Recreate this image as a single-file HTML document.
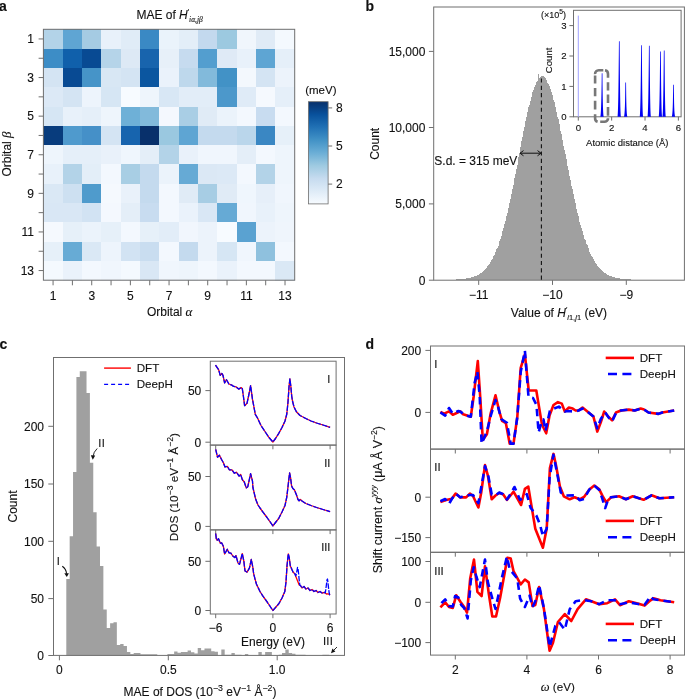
<!DOCTYPE html>
<html><head><meta charset="utf-8"><style>
html,body{margin:0;padding:0;background:#fff;}
body{width:685px;height:699px;overflow:hidden;}
svg{display:block;will-change:transform;}
text{font-family:"Liberation Sans", sans-serif;fill:#111;stroke:#111;stroke-width:0.12px;}
</style></head><body>
<svg width="685" height="699" viewBox="0 0 685 699">
<g shape-rendering="crispEdges">
<rect x="43.4" y="29.3" width="19.93" height="19.9" fill="#b3d3e8"/>
<rect x="62.73" y="29.3" width="19.93" height="19.9" fill="#5fa5d3"/>
<rect x="82.06" y="29.3" width="19.93" height="19.9" fill="#a5cbe3"/>
<rect x="101.39" y="29.3" width="19.93" height="19.9" fill="#e8f1fa"/>
<rect x="120.72" y="29.3" width="19.93" height="19.9" fill="#e0ecf7"/>
<rect x="140.05" y="29.3" width="19.93" height="19.9" fill="#3a89c4"/>
<rect x="159.38" y="29.3" width="19.93" height="19.9" fill="#eaf3fb"/>
<rect x="178.72" y="29.3" width="19.93" height="19.9" fill="#e3eef8"/>
<rect x="198.05" y="29.3" width="19.93" height="19.9" fill="#c3d9ee"/>
<rect x="217.38" y="29.3" width="19.93" height="19.9" fill="#9cc9e0"/>
<rect x="236.71" y="29.3" width="19.93" height="19.9" fill="#f0f6fc"/>
<rect x="256.04" y="29.3" width="19.93" height="19.9" fill="#e0ebf6"/>
<rect x="275.37" y="29.3" width="19.93" height="19.9" fill="#f4f9fe"/>
<rect x="43.4" y="48.6" width="19.93" height="19.9" fill="#3d8dc6"/>
<rect x="62.73" y="48.6" width="19.93" height="19.9" fill="#1060ab"/>
<rect x="82.06" y="48.6" width="19.93" height="19.9" fill="#084a93"/>
<rect x="101.39" y="48.6" width="19.93" height="19.9" fill="#b5d4e9"/>
<rect x="120.72" y="48.6" width="19.93" height="19.9" fill="#dde9f5"/>
<rect x="140.05" y="48.6" width="19.93" height="19.9" fill="#1864ad"/>
<rect x="159.38" y="48.6" width="19.93" height="19.9" fill="#e7f0f9"/>
<rect x="178.72" y="48.6" width="19.93" height="19.9" fill="#c6dbef"/>
<rect x="198.05" y="48.6" width="19.93" height="19.9" fill="#539ecf"/>
<rect x="217.38" y="48.6" width="19.93" height="19.9" fill="#dfeaf6"/>
<rect x="236.71" y="48.6" width="19.93" height="19.9" fill="#e8f1fa"/>
<rect x="256.04" y="48.6" width="19.93" height="19.9" fill="#5ea5d3"/>
<rect x="275.37" y="48.6" width="19.93" height="19.9" fill="#e5eff9"/>
<rect x="43.4" y="67.9" width="19.93" height="19.9" fill="#d4e4f3"/>
<rect x="62.73" y="67.9" width="19.93" height="19.9" fill="#084a93"/>
<rect x="82.06" y="67.9" width="19.93" height="19.9" fill="#4694c8"/>
<rect x="101.39" y="67.9" width="19.93" height="19.9" fill="#d8e7f4"/>
<rect x="120.72" y="67.9" width="19.93" height="19.9" fill="#d4e4f3"/>
<rect x="140.05" y="67.9" width="19.93" height="19.9" fill="#0b56a0"/>
<rect x="159.38" y="67.9" width="19.93" height="19.9" fill="#eaf2fb"/>
<rect x="178.72" y="67.9" width="19.93" height="19.9" fill="#bed8ec"/>
<rect x="198.05" y="67.9" width="19.93" height="19.9" fill="#82badb"/>
<rect x="217.38" y="67.9" width="19.93" height="19.9" fill="#4292c6"/>
<rect x="236.71" y="67.9" width="19.93" height="19.9" fill="#f3f8fd"/>
<rect x="256.04" y="67.9" width="19.93" height="19.9" fill="#d4e4f3"/>
<rect x="275.37" y="67.9" width="19.93" height="19.9" fill="#ecf3fb"/>
<rect x="43.4" y="87.2" width="19.93" height="19.9" fill="#dce9f6"/>
<rect x="62.73" y="87.2" width="19.93" height="19.9" fill="#d4e4f3"/>
<rect x="82.06" y="87.2" width="19.93" height="19.9" fill="#edf4fc"/>
<rect x="101.39" y="87.2" width="19.93" height="19.9" fill="#d6e6f4"/>
<rect x="120.72" y="87.2" width="19.93" height="19.9" fill="#f7fbff"/>
<rect x="140.05" y="87.2" width="19.93" height="19.9" fill="#eef5fc"/>
<rect x="159.38" y="87.2" width="19.93" height="19.9" fill="#d8e7f5"/>
<rect x="178.72" y="87.2" width="19.93" height="19.9" fill="#e2edf8"/>
<rect x="198.05" y="87.2" width="19.93" height="19.9" fill="#e2edf8"/>
<rect x="217.38" y="87.2" width="19.93" height="19.9" fill="#4c98cb"/>
<rect x="236.71" y="87.2" width="19.93" height="19.9" fill="#dfebf7"/>
<rect x="256.04" y="87.2" width="19.93" height="19.9" fill="#f5f9fe"/>
<rect x="275.37" y="87.2" width="19.93" height="19.9" fill="#e5eff9"/>
<rect x="43.4" y="106.5" width="19.93" height="19.9" fill="#d6e6f4"/>
<rect x="62.73" y="106.5" width="19.93" height="19.9" fill="#e8f1fa"/>
<rect x="82.06" y="106.5" width="19.93" height="19.9" fill="#e5eff9"/>
<rect x="101.39" y="106.5" width="19.93" height="19.9" fill="#eef5fc"/>
<rect x="120.72" y="106.5" width="19.93" height="19.9" fill="#6eb0d7"/>
<rect x="140.05" y="106.5" width="19.93" height="19.9" fill="#82badb"/>
<rect x="159.38" y="106.5" width="19.93" height="19.9" fill="#f4f8fe"/>
<rect x="178.72" y="106.5" width="19.93" height="19.9" fill="#a9cee5"/>
<rect x="198.05" y="106.5" width="19.93" height="19.9" fill="#e0ebf6"/>
<rect x="217.38" y="106.5" width="19.93" height="19.9" fill="#ebf3fb"/>
<rect x="236.71" y="106.5" width="19.93" height="19.9" fill="#f3f8fe"/>
<rect x="256.04" y="106.5" width="19.93" height="19.9" fill="#c8dcf0"/>
<rect x="275.37" y="106.5" width="19.93" height="19.9" fill="#f3f8fe"/>
<rect x="43.4" y="125.8" width="19.93" height="19.9" fill="#083c7d"/>
<rect x="62.73" y="125.8" width="19.93" height="19.9" fill="#4f9acd"/>
<rect x="82.06" y="125.8" width="19.93" height="19.9" fill="#4590c8"/>
<rect x="101.39" y="125.8" width="19.93" height="19.9" fill="#d4e4f3"/>
<rect x="120.72" y="125.8" width="19.93" height="19.9" fill="#1764ae"/>
<rect x="140.05" y="125.8" width="19.93" height="19.9" fill="#08306b"/>
<rect x="159.38" y="125.8" width="19.93" height="19.9" fill="#9ac8e0"/>
<rect x="178.72" y="125.8" width="19.93" height="19.9" fill="#5ea5d3"/>
<rect x="198.05" y="125.8" width="19.93" height="19.9" fill="#c4daee"/>
<rect x="217.38" y="125.8" width="19.93" height="19.9" fill="#c4daee"/>
<rect x="236.71" y="125.8" width="19.93" height="19.9" fill="#bad6eb"/>
<rect x="256.04" y="125.8" width="19.93" height="19.9" fill="#3a87c3"/>
<rect x="275.37" y="125.8" width="19.93" height="19.9" fill="#e6f0f9"/>
<rect x="43.4" y="145.1" width="19.93" height="19.9" fill="#eef5fc"/>
<rect x="62.73" y="145.1" width="19.93" height="19.9" fill="#e5eff9"/>
<rect x="82.06" y="145.1" width="19.93" height="19.9" fill="#e5eff9"/>
<rect x="101.39" y="145.1" width="19.93" height="19.9" fill="#e9f1fa"/>
<rect x="120.72" y="145.1" width="19.93" height="19.9" fill="#eff6fd"/>
<rect x="140.05" y="145.1" width="19.93" height="19.9" fill="#e4eef8"/>
<rect x="159.38" y="145.1" width="19.93" height="19.9" fill="#b3d3e8"/>
<rect x="178.72" y="145.1" width="19.93" height="19.9" fill="#e9f1fa"/>
<rect x="198.05" y="145.1" width="19.93" height="19.9" fill="#f0f6fd"/>
<rect x="217.38" y="145.1" width="19.93" height="19.9" fill="#f0f6fd"/>
<rect x="236.71" y="145.1" width="19.93" height="19.9" fill="#e4eef8"/>
<rect x="256.04" y="145.1" width="19.93" height="19.9" fill="#f3f8fe"/>
<rect x="275.37" y="145.1" width="19.93" height="19.9" fill="#eef5fc"/>
<rect x="43.4" y="164.4" width="19.93" height="19.9" fill="#e8f1fa"/>
<rect x="62.73" y="164.4" width="19.93" height="19.9" fill="#b3d3e8"/>
<rect x="82.06" y="164.4" width="19.93" height="19.9" fill="#e3eef8"/>
<rect x="101.39" y="164.4" width="19.93" height="19.9" fill="#f3f8fe"/>
<rect x="120.72" y="164.4" width="19.93" height="19.9" fill="#a8cee4"/>
<rect x="140.05" y="164.4" width="19.93" height="19.9" fill="#c4daee"/>
<rect x="159.38" y="164.4" width="19.93" height="19.9" fill="#ebf3fb"/>
<rect x="178.72" y="164.4" width="19.93" height="19.9" fill="#66aad5"/>
<rect x="198.05" y="164.4" width="19.93" height="19.9" fill="#dbe8f5"/>
<rect x="217.38" y="164.4" width="19.93" height="19.9" fill="#dce9f6"/>
<rect x="236.71" y="164.4" width="19.93" height="19.9" fill="#f3f8fe"/>
<rect x="256.04" y="164.4" width="19.93" height="19.9" fill="#b3d3e8"/>
<rect x="275.37" y="164.4" width="19.93" height="19.9" fill="#eef5fc"/>
<rect x="43.4" y="183.7" width="19.93" height="19.9" fill="#dae8f5"/>
<rect x="62.73" y="183.7" width="19.93" height="19.9" fill="#cde0f1"/>
<rect x="82.06" y="183.7" width="19.93" height="19.9" fill="#4f9bcc"/>
<rect x="101.39" y="183.7" width="19.93" height="19.9" fill="#f5f9fe"/>
<rect x="120.72" y="183.7" width="19.93" height="19.9" fill="#e9f1fa"/>
<rect x="140.05" y="183.7" width="19.93" height="19.9" fill="#c4daee"/>
<rect x="159.38" y="183.7" width="19.93" height="19.9" fill="#f3f8fe"/>
<rect x="178.72" y="183.7" width="19.93" height="19.9" fill="#e0ebf6"/>
<rect x="198.05" y="183.7" width="19.93" height="19.9" fill="#a7cde4"/>
<rect x="217.38" y="183.7" width="19.93" height="19.9" fill="#e0ebf6"/>
<rect x="236.71" y="183.7" width="19.93" height="19.9" fill="#eff6fd"/>
<rect x="256.04" y="183.7" width="19.93" height="19.9" fill="#e6eff9"/>
<rect x="275.37" y="183.7" width="19.93" height="19.9" fill="#f0f6fd"/>
<rect x="43.4" y="203" width="19.93" height="19.9" fill="#d9e7f5"/>
<rect x="62.73" y="203" width="19.93" height="19.9" fill="#d9e7f5"/>
<rect x="82.06" y="203" width="19.93" height="19.9" fill="#d2e3f3"/>
<rect x="101.39" y="203" width="19.93" height="19.9" fill="#f4f8fe"/>
<rect x="120.72" y="203" width="19.93" height="19.9" fill="#e4eef8"/>
<rect x="140.05" y="203" width="19.93" height="19.9" fill="#c8dcf0"/>
<rect x="159.38" y="203" width="19.93" height="19.9" fill="#f3f8fe"/>
<rect x="178.72" y="203" width="19.93" height="19.9" fill="#eaf2fb"/>
<rect x="198.05" y="203" width="19.93" height="19.9" fill="#d9e7f5"/>
<rect x="217.38" y="203" width="19.93" height="19.9" fill="#66aad5"/>
<rect x="236.71" y="203" width="19.93" height="19.9" fill="#f0f6fd"/>
<rect x="256.04" y="203" width="19.93" height="19.9" fill="#e8f1fa"/>
<rect x="275.37" y="203" width="19.93" height="19.9" fill="#eef5fc"/>
<rect x="43.4" y="222.3" width="19.93" height="19.9" fill="#f5f9fe"/>
<rect x="62.73" y="222.3" width="19.93" height="19.9" fill="#e6f0f9"/>
<rect x="82.06" y="222.3" width="19.93" height="19.9" fill="#ebf3fb"/>
<rect x="101.39" y="222.3" width="19.93" height="19.9" fill="#e6f0f9"/>
<rect x="120.72" y="222.3" width="19.93" height="19.9" fill="#f3f8fe"/>
<rect x="140.05" y="222.3" width="19.93" height="19.9" fill="#e6f0f9"/>
<rect x="159.38" y="222.3" width="19.93" height="19.9" fill="#e2edf8"/>
<rect x="178.72" y="222.3" width="19.93" height="19.9" fill="#f1f6fd"/>
<rect x="198.05" y="222.3" width="19.93" height="19.9" fill="#ecf3fb"/>
<rect x="217.38" y="222.3" width="19.93" height="19.9" fill="#f7fbff"/>
<rect x="236.71" y="222.3" width="19.93" height="19.9" fill="#5aa2d1"/>
<rect x="256.04" y="222.3" width="19.93" height="19.9" fill="#ecf3fb"/>
<rect x="275.37" y="222.3" width="19.93" height="19.9" fill="#eff5fc"/>
<rect x="43.4" y="241.6" width="19.93" height="19.9" fill="#e6f0f9"/>
<rect x="62.73" y="241.6" width="19.93" height="19.9" fill="#67abd5"/>
<rect x="82.06" y="241.6" width="19.93" height="19.9" fill="#dae8f5"/>
<rect x="101.39" y="241.6" width="19.93" height="19.9" fill="#edf4fc"/>
<rect x="120.72" y="241.6" width="19.93" height="19.9" fill="#d2e3f3"/>
<rect x="140.05" y="241.6" width="19.93" height="19.9" fill="#c9ddf0"/>
<rect x="159.38" y="241.6" width="19.93" height="19.9" fill="#f3f8fe"/>
<rect x="178.72" y="241.6" width="19.93" height="19.9" fill="#c4daee"/>
<rect x="198.05" y="241.6" width="19.93" height="19.9" fill="#ecf3fb"/>
<rect x="217.38" y="241.6" width="19.93" height="19.9" fill="#d6e6f4"/>
<rect x="236.71" y="241.6" width="19.93" height="19.9" fill="#f0f6fd"/>
<rect x="256.04" y="241.6" width="19.93" height="19.9" fill="#8fc1de"/>
<rect x="275.37" y="241.6" width="19.93" height="19.9" fill="#f3f8fe"/>
<rect x="43.4" y="260.9" width="19.93" height="19.9" fill="#f4f9fe"/>
<rect x="62.73" y="260.9" width="19.93" height="19.9" fill="#eaf2fb"/>
<rect x="82.06" y="260.9" width="19.93" height="19.9" fill="#f3f8fe"/>
<rect x="101.39" y="260.9" width="19.93" height="19.9" fill="#f0f6fd"/>
<rect x="120.72" y="260.9" width="19.93" height="19.9" fill="#f4f9fe"/>
<rect x="140.05" y="260.9" width="19.93" height="19.9" fill="#d9e7f5"/>
<rect x="159.38" y="260.9" width="19.93" height="19.9" fill="#f0f6fd"/>
<rect x="178.72" y="260.9" width="19.93" height="19.9" fill="#eef5fc"/>
<rect x="198.05" y="260.9" width="19.93" height="19.9" fill="#f3f8fe"/>
<rect x="217.38" y="260.9" width="19.93" height="19.9" fill="#eaf2fb"/>
<rect x="236.71" y="260.9" width="19.93" height="19.9" fill="#f3f8fe"/>
<rect x="256.04" y="260.9" width="19.93" height="19.9" fill="#f3f8fe"/>
<rect x="275.37" y="260.9" width="19.93" height="19.9" fill="#dae8f5"/>
</g>
<rect x="43.4" y="29.3" width="251.3" height="250.9" fill="none" stroke="#6f6f6f" stroke-width="1"/>
<line x1="38.6" y1="38.95" x2="43.4" y2="38.95" stroke="#6f6f6f" stroke-width="1"/>
<line x1="53.07" y1="280.2" x2="53.07" y2="285.3" stroke="#6f6f6f" stroke-width="1"/>
<text x="34" y="43.25" text-anchor="end" font-size="12">1</text>
<text x="53.07" y="299.6" text-anchor="middle" font-size="12">1</text>
<line x1="38.6" y1="58.25" x2="43.4" y2="58.25" stroke="#6f6f6f" stroke-width="1"/>
<line x1="72.4" y1="280.2" x2="72.4" y2="285.3" stroke="#6f6f6f" stroke-width="1"/>
<line x1="38.6" y1="77.55" x2="43.4" y2="77.55" stroke="#6f6f6f" stroke-width="1"/>
<line x1="91.73" y1="280.2" x2="91.73" y2="285.3" stroke="#6f6f6f" stroke-width="1"/>
<text x="34" y="81.85" text-anchor="end" font-size="12">3</text>
<text x="91.73" y="299.6" text-anchor="middle" font-size="12">3</text>
<line x1="38.6" y1="96.85" x2="43.4" y2="96.85" stroke="#6f6f6f" stroke-width="1"/>
<line x1="111.06" y1="280.2" x2="111.06" y2="285.3" stroke="#6f6f6f" stroke-width="1"/>
<line x1="38.6" y1="116.15" x2="43.4" y2="116.15" stroke="#6f6f6f" stroke-width="1"/>
<line x1="130.39" y1="280.2" x2="130.39" y2="285.3" stroke="#6f6f6f" stroke-width="1"/>
<text x="34" y="120.45" text-anchor="end" font-size="12">5</text>
<text x="130.39" y="299.6" text-anchor="middle" font-size="12">5</text>
<line x1="38.6" y1="135.45" x2="43.4" y2="135.45" stroke="#6f6f6f" stroke-width="1"/>
<line x1="149.72" y1="280.2" x2="149.72" y2="285.3" stroke="#6f6f6f" stroke-width="1"/>
<line x1="38.6" y1="154.75" x2="43.4" y2="154.75" stroke="#6f6f6f" stroke-width="1"/>
<line x1="169.05" y1="280.2" x2="169.05" y2="285.3" stroke="#6f6f6f" stroke-width="1"/>
<text x="34" y="159.05" text-anchor="end" font-size="12">7</text>
<text x="169.05" y="299.6" text-anchor="middle" font-size="12">7</text>
<line x1="38.6" y1="174.05" x2="43.4" y2="174.05" stroke="#6f6f6f" stroke-width="1"/>
<line x1="188.38" y1="280.2" x2="188.38" y2="285.3" stroke="#6f6f6f" stroke-width="1"/>
<line x1="38.6" y1="193.35" x2="43.4" y2="193.35" stroke="#6f6f6f" stroke-width="1"/>
<line x1="207.71" y1="280.2" x2="207.71" y2="285.3" stroke="#6f6f6f" stroke-width="1"/>
<text x="34" y="197.65" text-anchor="end" font-size="12">9</text>
<text x="207.71" y="299.6" text-anchor="middle" font-size="12">9</text>
<line x1="38.6" y1="212.65" x2="43.4" y2="212.65" stroke="#6f6f6f" stroke-width="1"/>
<line x1="227.04" y1="280.2" x2="227.04" y2="285.3" stroke="#6f6f6f" stroke-width="1"/>
<line x1="38.6" y1="231.95" x2="43.4" y2="231.95" stroke="#6f6f6f" stroke-width="1"/>
<line x1="246.37" y1="280.2" x2="246.37" y2="285.3" stroke="#6f6f6f" stroke-width="1"/>
<text x="34" y="236.25" text-anchor="end" font-size="12">11</text>
<text x="246.37" y="299.6" text-anchor="middle" font-size="12">11</text>
<line x1="38.6" y1="251.25" x2="43.4" y2="251.25" stroke="#6f6f6f" stroke-width="1"/>
<line x1="265.7" y1="280.2" x2="265.7" y2="285.3" stroke="#6f6f6f" stroke-width="1"/>
<line x1="38.6" y1="270.55" x2="43.4" y2="270.55" stroke="#6f6f6f" stroke-width="1"/>
<line x1="285.03" y1="280.2" x2="285.03" y2="285.3" stroke="#6f6f6f" stroke-width="1"/>
<text x="34" y="274.85" text-anchor="end" font-size="12">13</text>
<text x="285.03" y="299.6" text-anchor="middle" font-size="12">13</text>
<text x="136.4" y="19" font-size="12">MAE of <tspan font-style="italic">H</tspan><tspan font-size="7" dy="-5">′</tspan><tspan font-size="7.5" font-style="italic" dy="8" font-family="Liberation Serif">iα,jβ</tspan></text>
<text x="-1" y="11" font-size="14" font-weight="bold">a</text>
<text x="146.9" y="316.4" font-size="12">Orbital <tspan font-family="Liberation Serif" font-style="italic" font-size="13">α</tspan></text>
<text transform="translate(10.7 154) rotate(-90)" text-anchor="middle" font-size="12">Orbital <tspan font-family="Liberation Serif" font-style="italic" font-size="13">β</tspan></text>
<defs><linearGradient id="cb" x1="0" y1="1" x2="0" y2="0"><stop offset="0" stop-color="#f7fbff"/><stop offset="0.125" stop-color="#deebf7"/><stop offset="0.25" stop-color="#c6dbef"/><stop offset="0.375" stop-color="#9ecae1"/><stop offset="0.5" stop-color="#6baed6"/><stop offset="0.625" stop-color="#4292c6"/><stop offset="0.75" stop-color="#2171b5"/><stop offset="0.875" stop-color="#08519c"/><stop offset="1" stop-color="#08306b"/></linearGradient></defs>
<rect x="308.4" y="101.7" width="19.7" height="102.2" fill="url(#cb)" stroke="#6f6f6f" stroke-width="0.8"/>
<line x1="328.1" y1="107.9" x2="332.2" y2="107.9" stroke="#6f6f6f" stroke-width="1"/>
<text x="336" y="112.2" font-size="12">8</text>
<line x1="328.1" y1="146" x2="332.2" y2="146" stroke="#6f6f6f" stroke-width="1"/>
<text x="336" y="150.3" font-size="12">5</text>
<line x1="328.1" y1="184.1" x2="332.2" y2="184.1" stroke="#6f6f6f" stroke-width="1"/>
<text x="336" y="188.4" font-size="12">2</text>
<text x="305.2" y="94.4" font-size="11.5">(meV)</text>
<text x="365.5" y="10.5" font-size="14" font-weight="bold">b</text>
<path d="M443,280.2L443,279.87L444,279.87L444,279.85L445,279.85L445,279.83L446,279.83L446,279.81L447,279.81L447,279.78L448,279.78L448,279.76L449,279.76L449,279.73L450,279.73L450,279.7L451,279.7L451,279.67L452,279.67L452,279.63L453,279.63L453,279.59L454,279.59L454,279.55L455,279.55L455,279.5L456,279.5L456,279.45L457,279.45L457,279.39L458,279.39L458,279.33L459,279.33L459,279.26L460,279.26L460,279.18L461,279.18L461,279.09L462,279.09L462,278.99L463,278.99L463,278.89L464,278.89L464,278.76L465,278.76L465,278.63L466,278.63L466,278.47L467,278.47L467,278.3L468,278.3L468,278.11L469,278.11L469,277.9L470,277.9L470,277.67L471,277.67L471,277.4L472,277.4L472,277.11L473,277.11L473,276.78L474,276.78L474,276.42L475,276.42L475,276.02L476,276.02L476,275.57L477,275.57L477,275.08L478,275.08L478,274.53L479,274.53L479,273.93L480,273.93L480,273.27L481,273.27L481,272.54L482,272.54L482,271.74L483,271.74L483,270.86L484,270.86L484,269.9L485,269.9L485,268.85L486,268.85L486,267.71L487,267.71L487,266.47L488,266.47L488,265.12L489,265.12L489,263.65L490,263.65L490,262.07L491,262.07L491,260.37L492,260.37L492,259.16L493,259.16L493,256.45L494,256.45L494,254.76L495,254.76L495,251.93L496,251.93L496,249.47L497,249.47L497,248.24L498,248.24L498,245.64L499,245.64L499,240.77L500,240.77L500,239.09L501,239.09L501,235.93L502,235.93L502,230.7L503,230.7L503,228.4L504,228.4L504,223.79L505,223.79L505,220.76L506,220.76L506,216.31L507,216.31L507,213.26L508,213.26L508,207.73L509,207.73L509,202.66L510,202.66L510,198.83L511,198.83L511,193.53L512,193.53L512,188.79L513,188.79L513,185.25L514,185.25L514,178.49L515,178.49L515,173.71L516,173.71L516,169.17L517,169.17L517,164.54L518,164.54L518,157.24L519,157.24L519,152.87L520,152.87L520,146.98L521,146.98L521,141.33L522,141.33L522,136.52L523,136.52L523,130.89L524,130.89L524,127.12L525,127.12L525,121.24L526,121.24L526,117.33L527,117.33L527,111.56L528,111.56L528,107.29L529,107.29L529,104.97L530,104.97L530,100.92L531,100.92L531,97.03L532,97.03L532,91.8L533,91.8L533,89.93L534,89.93L534,86.64L535,86.64L535,84.92L536,84.92L536,82.25L537,82.25L537,80.72L538,80.72L538,73.9L539,73.9L539,77.69L540,77.69L540,76.97L541,76.97L541,75.86L542,75.86L542,76.43L543,76.43L543,76.22L544,76.22L544,77.14L545,77.14L545,77.91L546,77.91L546,80.11L547,80.11L547,83.1L548,83.1L548,83.52L549,83.52L549,85.68L550,85.68L550,88.54L551,88.54L551,92.35L552,92.35L552,95.28L553,95.28L553,100.02L554,100.02L554,102.31L555,102.31L555,106.92L556,106.92L556,111.82L557,111.82L557,116.74L558,116.74L558,119.39L559,119.39L559,123.76L560,123.76L560,130.74L561,130.74L561,133.94L562,133.94L562,139.88L563,139.88L563,145.57L564,145.57L564,150.33L565,150.33L565,154.32L566,154.32L566,159.2L567,159.2L567,166.31L568,166.31L568,170.03L569,170.03L569,176.44L570,176.44L570,179.8L571,179.8L571,185.64L572,185.64L572,189.14L573,189.14L573,193.62L574,193.62L574,199.36L575,199.36L575,202.67L576,202.67L576,208.68L577,208.68L577,213.45L578,213.45L578,216.28L579,216.28L579,221.57L580,221.57L580,224.95L581,224.95L581,228.07L582,228.07L582,231.05L583,231.05L583,235.45L584,235.45L584,238.88L585,238.88L585,239.9L586,239.9L586,244.07L587,244.07L587,245.21L588,245.21L588,247.89L589,247.89L589,251.53L590,251.53L590,253.58L591,253.58L591,255.54L592,255.54L592,257.22L593,257.22L593,259.17L594,259.17L594,261.12L595,261.12L595,262.72L596,262.72L596,264.2L597,264.2L597,265.57L598,265.57L598,266.85L599,266.85L599,268.02L600,268.02L600,269.1L601,269.1L601,270.1L602,270.1L602,271.01L603,271.01L603,271.85L604,271.85L604,272.61L605,272.61L605,273.31L606,273.31L606,273.95L607,273.95L607,274.53L608,274.53L608,275.06L609,275.06L609,275.54L610,275.54L610,275.97L611,275.97L611,276.37L612,276.37L612,276.72L613,276.72L613,277.05L614,277.05L614,277.34L615,277.34L615,277.6L616,277.6L616,277.83L617,277.83L617,278.05L618,278.05L618,278.24L619,278.24L619,278.41L620,278.41L620,278.56L621,278.56L621,278.7L622,278.7L622,278.82L623,278.82L623,278.94L624,278.94L624,279.04L625,279.04L625,279.13L626,279.13L626,279.21L627,279.21L627,279.28L628,279.28L628,279.35L629,279.35L629,279.41L630,279.41L630,279.46L631,279.46L631,279.51L632,279.51L632,279.56L633,279.56L633,279.6L634,279.6L634,279.64L635,279.64L635,279.67L636,279.67L636,279.7L637,279.7L637,279.73L638,279.73L638,279.76L639,279.76L639,279.78L640,279.78L640,279.81L641,279.81L641,279.83L642,279.83L642,279.85L643,279.85L643,279.87L644,279.87L644,279.88L645,279.88L645,279.9L646,279.9L646,279.9L647,279.9L647,279.9L648,279.9L648,279.9L649,279.9L649,279.9L650,279.9L650,279.9L651,279.9L651,279.9L652,279.9L652,279.9L653,279.9L653,279.9L654,279.9L654,279.9L655,279.9L655,279.9L656,279.9L656,279.9L657,279.9L657,279.9L658,279.9L658,279.9L659,279.9L659,279.9L660,279.9L660,279.9L661,279.9L661,279.9L662,279.9L662,279.9L663,279.9L663,279.9L664,279.9L664,279.9L665,279.9L665,279.9L666,279.9L666,279.9L667,279.9L667,279.9L668,279.9L668,279.9L669,279.9L669,279.9L670,279.9L670,279.9L671,279.9L671,279.9L672,279.9L672,279.9L673,279.9L673,279.9L674,279.9L674,279.9L675,279.9L675,280.2Z" fill="#a0a0a0" shape-rendering="crispEdges"/>
<rect x="433.7" y="7" width="250.7" height="273.2" fill="none" stroke="#6f6f6f" stroke-width="1"/>
<line x1="428.9" y1="280.2" x2="433.7" y2="280.2" stroke="#6f6f6f"/>
<text x="425.4" y="284.5" text-anchor="end" font-size="12">0</text>
<line x1="428.9" y1="203.9" x2="433.7" y2="203.9" stroke="#6f6f6f"/>
<text x="425.4" y="208.2" text-anchor="end" font-size="12">5,000</text>
<line x1="428.9" y1="127.5" x2="433.7" y2="127.5" stroke="#6f6f6f"/>
<text x="425.4" y="131.8" text-anchor="end" font-size="12">10,000</text>
<line x1="428.9" y1="51.4" x2="433.7" y2="51.4" stroke="#6f6f6f"/>
<text x="425.4" y="55.7" text-anchor="end" font-size="12">15,000</text>
<line x1="478.7" y1="280.2" x2="478.7" y2="284.9" stroke="#6f6f6f"/>
<text x="478.7" y="298.9" text-anchor="middle" font-size="12">−11</text>
<line x1="552.5" y1="280.2" x2="552.5" y2="284.9" stroke="#6f6f6f"/>
<text x="552.5" y="298.9" text-anchor="middle" font-size="12">−10</text>
<line x1="626.3" y1="280.2" x2="626.3" y2="284.9" stroke="#6f6f6f"/>
<text x="626.3" y="298.9" text-anchor="middle" font-size="12">−9</text>
<text transform="translate(379 143.8) rotate(-90)" text-anchor="middle" font-size="12">Count</text>
<text x="510.8" y="317.2" font-size="12">Value of <tspan font-style="italic">H</tspan><tspan font-size="7" dy="-5">′</tspan><tspan font-size="7.5" font-style="italic" dy="8">i</tspan><tspan font-size="7.5">1,</tspan><tspan font-size="7.5" font-style="italic">j</tspan><tspan font-size="7.5">1</tspan><tspan dy="-3"> (eV)</tspan></text>
<line x1="541.4" y1="78.5" x2="541.4" y2="280" stroke="#111" stroke-width="1.1" stroke-dasharray="4.1,3.2"/>
<line x1="520.5" y1="153.2" x2="540.5" y2="153.2" stroke="#111" stroke-width="1"/>
<path d="M523.5,150.6 L520,153.2 L523.5,155.8 M537.5,150.6 L541,153.2 L537.5,155.8" fill="none" stroke="#111" stroke-width="1"/>
<rect x="434.3" y="155" width="82" height="11" fill="#fff"/>
<text x="434.3" y="164.5" font-size="12">S.d. = 315 meV</text>
<rect x="573.5" y="10.3" width="107.6" height="106.5" fill="#fff" stroke="#6f6f6f" stroke-width="1"/>
<line x1="569.4" y1="116.8" x2="573.5" y2="116.8" stroke="#6f6f6f"/>
<text x="566.6" y="120" text-anchor="end" font-size="9.6">0</text>
<line x1="569.4" y1="86.4" x2="573.5" y2="86.4" stroke="#6f6f6f"/>
<text x="566.6" y="89.6" text-anchor="end" font-size="9.6">1</text>
<line x1="569.4" y1="56" x2="573.5" y2="56" stroke="#6f6f6f"/>
<text x="566.6" y="59.2" text-anchor="end" font-size="9.6">2</text>
<line x1="569.4" y1="25.6" x2="573.5" y2="25.6" stroke="#6f6f6f"/>
<text x="566.6" y="28.8" text-anchor="end" font-size="9.6">3</text>
<line x1="578.3" y1="116.8" x2="578.3" y2="120.6" stroke="#6f6f6f"/>
<text x="578.3" y="131" text-anchor="middle" font-size="9.6">0</text>
<line x1="611.66" y1="116.8" x2="611.66" y2="120.6" stroke="#6f6f6f"/>
<text x="611.66" y="131" text-anchor="middle" font-size="9.6">2</text>
<line x1="645.02" y1="116.8" x2="645.02" y2="120.6" stroke="#6f6f6f"/>
<text x="645.02" y="131" text-anchor="middle" font-size="9.6">4</text>
<line x1="678.38" y1="116.8" x2="678.38" y2="120.6" stroke="#6f6f6f"/>
<text x="678.38" y="131" text-anchor="middle" font-size="9.6">6</text>
<text x="627.3" y="145.8" text-anchor="middle" font-size="9.5">Atomic distance (Å)</text>
<text transform="translate(551.8 60.4) rotate(-90)" text-anchor="middle" font-size="9.6">Count</text>
<text x="541" y="17.8" font-size="9">(×10<tspan font-size="6.8" dy="-3.6">5</tspan><tspan dy="3.6">)</tspan></text>
<line x1="578.3" y1="116.8" x2="578.3" y2="15.6" stroke="#a0a0ff" stroke-width="1"/>
<path d="M600.4,116.8 C601.3,114 601.55,93.3 601.75,73.3 L602.45,73.3 C602.65,93.3 602.9,114 603.8,116.8 Z" fill="#0000f5"/>
<path d="M617.6,116.8 C618.5,114 618.75,61.2 618.95,41.2 L619.65,41.2 C619.85,61.2 620.1,114 621,116.8 Z" fill="#0000f5"/>
<path d="M624,116.8 C624.9,114 625.15,102.4 625.35,82.4 L626.05,82.4 C626.25,102.4 626.5,114 627.4,116.8 Z" fill="#0000f5"/>
<path d="M639.8,116.8 C640.7,114 640.95,65.3 641.15,45.3 L641.85,45.3 C642.05,65.3 642.3,114 643.2,116.8 Z" fill="#0000f5"/>
<path d="M647.6,116.8 C648.5,114 648.75,65.8 648.95,45.8 L649.65,45.8 C649.85,65.8 650.1,114 651,116.8 Z" fill="#0000f5"/>
<path d="M658.8,116.8 C659.7,114 659.95,71.5 660.15,51.5 L660.85,51.5 C661.05,71.5 661.3,114 662.2,116.8 Z" fill="#0000f5"/>
<path d="M662.5,116.8 C663.4,114 663.65,70.4 663.85,50.4 L664.55,50.4 C664.75,70.4 665,114 665.9,116.8 Z" fill="#0000f5"/>
<path d="M671.8,116.8 C672.7,114 672.95,104.7 673.15,84.7 L673.85,84.7 C674.05,104.7 674.3,114 675.2,116.8 Z" fill="#0000f5"/>
<path d="M595.1,74.2 A3.6,3.6 0 0 1 598.7,70.3 L603.3,70.3 M605.0,70.3 A3.6,3.6 0 0 1 608,73.9 L608,77.7 M608,82.2 L608,90.6 M608,94.6 L608,103 M608,107 L608,115.8 M608,119.4 L608,118.2 A3.6,3.6 0 0 1 604.4,121.8 L600.2,121.8 M597.6,121.8 A3.6,3.6 0 0 1 595.1,118.2 L595.1,114.2 M595.1,109.6 L595.1,100.8 M595.1,96.3 L595.1,87.9 M595.1,83.5 L595.1,75.4" fill="none" stroke="#777" stroke-width="2.6"/>
<text x="-0.5" y="349.4" font-size="14" font-weight="bold">c</text>
<path d="M66.3,655.4V579.08H69.67V655.4ZM69.67,655.4V536.22H73.04V655.4ZM73.04,655.4V472.04H76.41V655.4ZM76.41,655.4V376.92H79.78V655.4ZM79.78,655.4V371.19H83.15V655.4ZM83.15,655.4V371.19H86.52V655.4ZM86.52,655.4V392.97H89.89V655.4ZM89.89,655.4V462.87H93.26V655.4ZM93.26,655.4V512.15H96.63V655.4ZM96.63,655.4V546.53H100V655.4ZM100,655.4V566.01H103.37V655.4ZM103.37,655.4V609.56H106.74V655.4ZM106.74,655.4V627.9H110.11V655.4ZM110.11,655.4V623.31H113.48V655.4ZM113.48,655.4V622.17H116.85V655.4ZM116.85,655.4V645.09H120.22V655.4ZM120.22,655.4V643.94H123.59V655.4ZM123.59,655.4V645.89H126.96V655.4ZM126.96,655.4V651.96H130.33V655.4ZM130.33,655.4V653.91H133.7V655.4ZM133.7,655.4V653.11H137.07V655.4ZM137.07,655.4V653.11H140.44V655.4ZM140.44,655.4V654.25H143.81V655.4ZM143.81,655.4V654.25H147.18V655.4ZM147.18,655.4V654.25H150.55V655.4ZM150.55,655.4V654.25H153.92V655.4ZM153.92,655.4V654.25H157.29V655.4ZM167.4,655.4V653.91H170.77V655.4ZM170.77,655.4V653.91H174.14V655.4ZM174.14,655.4V651.62H177.51V655.4ZM177.51,655.4V652.76H180.88V655.4ZM180.88,655.4V651.96H184.25V655.4ZM184.25,655.4V651.96H187.62V655.4ZM187.62,655.4V650.59H190.99V655.4ZM190.99,655.4V652.19H194.36V655.4ZM194.36,655.4V653.45H197.73V655.4ZM197.73,655.4V648.07H201.1V655.4ZM201.1,655.4V650.24H204.47V655.4ZM204.47,655.4V648.41H207.84V655.4ZM207.84,655.4V648.41H211.21V655.4ZM211.21,655.4V651.27H214.58V655.4ZM214.58,655.4V651.73H217.95V655.4ZM221.32,655.4V649.44H224.69V655.4ZM224.69,655.4V654.83H228.06V655.4ZM228.06,655.4V654.83H231.43V655.4ZM231.43,655.4V653.11H234.8V655.4ZM234.8,655.4V654.83H238.17V655.4ZM238.17,655.4V654.83H241.54V655.4ZM244.91,655.4V653.91H248.28V655.4ZM258.39,655.4V651.96H261.76V655.4ZM261.76,655.4V654.83H265.13V655.4ZM265.13,655.4V651.96H268.5V655.4ZM268.5,655.4V651.96H271.87V655.4ZM278.61,655.4V654.83H281.98V655.4ZM281.98,655.4V653.11H285.35V655.4ZM285.35,655.4V649.44H288.72V655.4ZM288.72,655.4V653.11H292.09V655.4ZM292.09,655.4V653.68H295.46V655.4ZM295.46,655.4V654.83H298.83V655.4ZM298.83,655.4V654.83H302.2V655.4ZM302.2,655.4V654.83H305.57V655.4ZM322.42,655.4V654.83H325.79V655.4ZM325.79,655.4V654.83H329.16V655.4Z" fill="#a0a0a0"/>
<rect x="53.5" y="357.5" width="291" height="297.9" fill="none" stroke="#6f6f6f" stroke-width="1"/>
<line x1="48.3" y1="655.5" x2="53.5" y2="655.5" stroke="#6f6f6f"/>
<text x="44" y="659.8" text-anchor="end" font-size="12">0</text>
<line x1="48.3" y1="598.6" x2="53.5" y2="598.6" stroke="#6f6f6f"/>
<text x="44" y="602.9" text-anchor="end" font-size="12">50</text>
<line x1="48.3" y1="541.3" x2="53.5" y2="541.3" stroke="#6f6f6f"/>
<text x="44" y="545.6" text-anchor="end" font-size="12">100</text>
<line x1="48.3" y1="484" x2="53.5" y2="484" stroke="#6f6f6f"/>
<text x="44" y="488.3" text-anchor="end" font-size="12">150</text>
<line x1="48.3" y1="426.3" x2="53.5" y2="426.3" stroke="#6f6f6f"/>
<text x="44" y="430.6" text-anchor="end" font-size="12">200</text>
<line x1="59.4" y1="655.4" x2="59.4" y2="660.3" stroke="#6f6f6f"/>
<text x="59.4" y="674.1" text-anchor="middle" font-size="12">0</text>
<line x1="168.3" y1="655.4" x2="168.3" y2="660.3" stroke="#6f6f6f"/>
<text x="168.3" y="674.1" text-anchor="middle" font-size="12">0.5</text>
<line x1="277.2" y1="655.4" x2="277.2" y2="660.3" stroke="#6f6f6f"/>
<text x="277.2" y="674.1" text-anchor="middle" font-size="12">1.0</text>
<text transform="translate(16.6 506.5) rotate(-90)" text-anchor="middle" font-size="12">Count</text>
<text x="123.6" y="696" font-size="12">MAE of DOS (10<tspan font-size="8.8" dy="-5.2">−3</tspan><tspan dy="5.2"> eV</tspan><tspan font-size="8.8" dy="-5.2">−1</tspan><tspan dy="5.2"> Å</tspan><tspan font-size="8.8" dy="-5.2">−2</tspan><tspan dy="5.2">)</tspan></text>
<text x="56.7" y="565.3" font-size="11">I</text>
<path d="M62.3,566.3 Q66.2,569 66.6,573.8" fill="none" stroke="#111" stroke-width="1.1"/>
<path d="M64.3,573.2 L68.9,573.2 L66.8,577 Z" fill="#111"/>
<text x="98.2" y="447" font-size="11" letter-spacing="0.6">II</text>
<path d="M97.2,448.5 Q93.5,452 93,456.5" fill="none" stroke="#111" stroke-width="0.9"/>
<path d="M90.8,455.2 L92.8,459.8 L95.2,455.6 Z" fill="#111"/>
<text x="322.9" y="645" font-size="11.3" letter-spacing="0.3">III</text>
<path d="M337,647 L332.8,651.2" fill="none" stroke="#111" stroke-width="0.9"/>
<path d="M331,653.2 L332.4,648.6 L335.4,651.6 Z" fill="#111"/>
<line x1="104.1" y1="368.1" x2="130.9" y2="368.1" stroke="#ff0000" stroke-width="1.4"/>
<line x1="104.1" y1="384.4" x2="130.9" y2="384.4" stroke="#0000ff" stroke-width="1.4" stroke-dasharray="4,3"/>
<text x="136.7" y="372" font-size="11.6">DFT</text>
<text x="136.7" y="387.9" font-size="11.6">DeepH</text>
<rect x="210.3" y="361.2" width="125.8" height="252.8" fill="#fff"/>
<rect x="210.3" y="361.2" width="125.8" height="83.9" fill="none" stroke="#6f6f6f" stroke-width="1"/>
<line x1="205.4" y1="442.2" x2="210.3" y2="442.2" stroke="#6f6f6f"/>
<line x1="205.4" y1="390.6" x2="210.3" y2="390.6" stroke="#6f6f6f"/>
<text x="201.3" y="446.5" text-anchor="end" font-size="12">0</text>
<text x="201.3" y="394.9" text-anchor="end" font-size="12">50</text>
<text x="330.4" y="382.7" text-anchor="end" font-size="11">I</text>
<line x1="215.7" y1="445.1" x2="215.7" y2="449.3" stroke="#6f6f6f"/>
<line x1="272.9" y1="445.1" x2="272.9" y2="449.3" stroke="#6f6f6f"/>
<line x1="330.1" y1="445.1" x2="330.1" y2="449.3" stroke="#6f6f6f"/>
<rect x="210.3" y="445.1" width="125.8" height="84.8" fill="none" stroke="#6f6f6f" stroke-width="1"/>
<line x1="205.4" y1="526.4" x2="210.3" y2="526.4" stroke="#6f6f6f"/>
<line x1="205.4" y1="476.5" x2="210.3" y2="476.5" stroke="#6f6f6f"/>
<text x="201.3" y="530.7" text-anchor="end" font-size="12">0</text>
<text x="201.3" y="480.8" text-anchor="end" font-size="12">50</text>
<text x="330.4" y="466.6" text-anchor="end" font-size="11">II</text>
<line x1="215.7" y1="529.9" x2="215.7" y2="534.1" stroke="#6f6f6f"/>
<line x1="272.9" y1="529.9" x2="272.9" y2="534.1" stroke="#6f6f6f"/>
<line x1="330.1" y1="529.9" x2="330.1" y2="534.1" stroke="#6f6f6f"/>
<rect x="210.3" y="529.9" width="125.8" height="84.1" fill="none" stroke="#6f6f6f" stroke-width="1"/>
<line x1="205.4" y1="610.5" x2="210.3" y2="610.5" stroke="#6f6f6f"/>
<line x1="205.4" y1="561.3" x2="210.3" y2="561.3" stroke="#6f6f6f"/>
<text x="201.3" y="614.8" text-anchor="end" font-size="12">0</text>
<text x="201.3" y="565.6" text-anchor="end" font-size="12">50</text>
<text x="330.4" y="551.4" text-anchor="end" font-size="11">III</text>
<line x1="215.7" y1="614.0" x2="215.7" y2="618.2" stroke="#6f6f6f"/>
<line x1="272.9" y1="614.0" x2="272.9" y2="618.2" stroke="#6f6f6f"/>
<line x1="330.1" y1="614.0" x2="330.1" y2="618.2" stroke="#6f6f6f"/>
<text x="215.7" y="632.3" text-anchor="middle" font-size="12">−6</text>
<text x="272.9" y="632.3" text-anchor="middle" font-size="12">0</text>
<text x="330.1" y="632.3" text-anchor="middle" font-size="12">6</text>
<text x="273" y="645.8" text-anchor="middle" font-size="12">Energy (eV)</text>
<text transform="translate(178.3 487.2) rotate(-90)" text-anchor="middle" font-size="11.8">DOS (10<tspan font-size="8.6" dy="-5">−3</tspan><tspan dy="5"> eV</tspan><tspan font-size="8.6" dy="-5">−1</tspan><tspan dy="5"> Å</tspan><tspan font-size="8.6" dy="-5">−2</tspan><tspan dy="5">)</tspan></text>
<polyline points="215.5,365.1 218.7,369.8 220.2,375.4 221.8,373.4 223.0,375.4 224.6,382.8 226.5,379.7 228.9,384.0 232.0,385.2 233.6,386.4 236.0,386.8 238.7,389.1 241.1,387.6 242.3,388.7 243.5,397.0 244.6,405.7 247.0,403.3 248.8,395.0 250.6,385.6 252.5,399.4 255.3,414.3 257.5,418.0 261.0,425.5 265.3,432.0 269.0,437.5 272.9,442.0 275.5,438.5 278.8,433.3 282.0,427.5 285.0,421.0 286.8,414.0 288.0,402.0 289.0,387.0 289.9,378.8 290.8,386.0 291.7,396.0 292.5,401.0 294.0,407.0 296.4,411.7 300.0,415.5 305.8,418.5 311.0,421.0 316.6,423.0 323.0,425.0 330.1,427.4" fill="none" stroke="#ff0000" stroke-width="1.3" stroke-linejoin="round"/>
<polyline points="215.5,365.1 218.7,369.8 220.2,375.4 221.8,373.4 223.0,375.4 224.6,382.8 226.5,379.7 228.9,384.0 232.0,385.2 233.6,386.4 236.0,386.8 238.7,389.1 241.1,387.6 242.3,388.7 243.5,397.0 244.6,405.7 247.0,403.3 248.8,395.0 250.6,385.6 252.5,399.4 255.3,414.3 257.5,418.0 261.0,425.5 265.3,432.0 269.0,437.5 272.9,442.0 275.5,438.5 278.8,433.3 282.0,427.5 285.0,421.0 286.8,414.0 288.0,402.0 289.0,387.0 289.9,378.8 290.8,386.0 291.7,396.0 292.5,401.0 294.0,407.0 296.4,411.7 300.0,415.5 305.8,418.5 311.0,421.0 316.6,423.0 323.0,425.0 330.1,427.4" fill="none" stroke="#0000ff" stroke-width="1.3" stroke-dasharray="5.5,1.3" stroke-linejoin="round"/>
<polyline points="215.7,449.3 217.5,457.2 219.4,455.2 221.4,459.2 223.4,462.7 225.0,467.0 227.3,466.3 229.3,469.8 232.0,469.8 234.4,473.3 236.4,472.2 239.1,476.1 240.7,474.5 242.3,479.6 244.3,482.0 246.2,487.9 247.8,486.7 250.6,473.7 252.5,481.2 252.9,487.5 255.7,499.3 258.0,505.0 260.0,508.0 262.6,511.6 267.0,517.5 272.9,525.9 275.5,522.5 278.8,518.3 282.0,512.0 285.0,505.5 286.8,497.0 288.3,484.0 289.6,473.0 290.6,478.0 291.6,486.0 292.9,488.6 294.5,490.0 296.5,495.0 298.0,499.5 299.1,500.8 300.4,499.4 302.0,501.0 305.8,503.5 311.0,505.5 316.6,507.5 323.0,509.5 330.1,511.6" fill="none" stroke="#ff0000" stroke-width="1.3" stroke-linejoin="round"/>
<polyline points="215.7,449.3 217.5,457.2 219.4,455.2 221.4,459.2 223.4,462.7 225.0,467.0 227.3,466.3 229.3,469.8 232.0,469.8 234.4,473.3 236.4,472.2 239.1,476.1 240.7,474.5 242.3,479.6 244.3,482.0 246.2,487.9 247.8,486.7 250.6,473.7 252.5,481.2 252.9,487.5 255.7,499.3 258.0,505.0 260.0,508.0 262.6,511.6 267.0,517.5 272.9,525.9 275.5,522.5 278.8,518.3 282.0,512.0 285.0,505.5 286.8,497.0 288.3,484.0 289.6,473.0 290.6,478.0 291.6,486.0 292.9,488.6 294.5,490.0 296.5,495.0 298.0,499.5 299.1,500.8 300.4,499.4 302.0,501.0 305.8,503.5 311.0,505.5 316.6,507.5 323.0,509.5 330.1,511.6" fill="none" stroke="#0000ff" stroke-width="1.3" stroke-dasharray="5.5,1.3" stroke-linejoin="round"/>
<polyline points="215.7,533.5 216.3,538.7 217.1,540.2 218.5,538.7 220.2,543.0 221.8,543.0 223.4,546.5 224.6,554.0 227.3,549.3 228.9,552.8 230.9,553.2 232.8,556.0 234.8,557.6 236.0,555.6 238.0,563.1 239.5,564.3 242.3,553.6 243.9,561.5 245.0,570.9 247.0,572.1 249.4,568.2 251.3,559.5 252.9,567.8 253.7,574.1 256.5,584.3 260.0,591.5 262.6,595.6 267.5,602.5 272.9,610.5 275.5,607.5 278.8,603.7 282.0,598.0 284.8,591.6 286.0,582.0 287.0,566.0 288.3,553.8 289.3,558.0 290.3,566.0 291.5,568.5 293.0,572.0 295.0,574.0 296.4,578.1 299.1,584.8 300.5,585.5 302.0,588.0 304.0,586.5 306.0,589.0 308.0,588.0 310.0,590.5 312.0,589.5 314.0,591.5 316.0,590.5 318.0,592.5 320.0,591.5 322.0,593.0 324.7,592.4 326.5,594.0 328.0,593.8 330.1,595.0" fill="none" stroke="#ff0000" stroke-width="1.3" stroke-linejoin="round"/>
<polyline points="215.7,533.5 216.3,538.7 217.1,540.2 217.8,539.5 218.5,538.7 219.1,540.1 219.6,541.6 220.2,543.0 220.7,543.0 221.3,543.0 221.8,543.0 222.3,544.2 222.9,545.3 223.4,546.5 224.0,550.2 224.6,554.0 225.1,553.1 225.7,552.1 226.2,551.2 226.8,550.2 227.3,549.3 227.8,550.5 228.4,551.6 228.9,552.8 229.4,552.9 229.9,553.0 230.4,553.1 230.9,553.2 231.5,554.1 232.2,555.1 232.8,556.0 233.3,556.4 233.8,556.8 234.3,557.2 234.8,557.6 235.4,556.6 236.0,555.6 236.5,557.5 237.0,559.4 237.5,561.2 238.0,563.1 238.5,563.5 239.0,563.9 239.5,564.3 240.1,562.2 240.6,560.0 241.2,557.9 241.7,555.7 242.3,553.6 242.8,556.2 243.4,558.9 243.9,561.5 244.4,566.2 245.0,570.9 245.5,571.2 246.0,571.5 246.5,571.8 247.0,572.1 247.6,571.1 248.2,570.2 248.8,569.2 249.4,568.2 250.0,565.3 250.7,562.4 251.3,559.5 251.8,562.3 252.4,565.0 252.9,567.8 253.7,574.1 254.3,576.1 254.8,578.2 255.4,580.2 255.9,582.3 256.5,584.3 257.0,585.3 257.5,586.4 258.0,587.4 258.5,588.4 259.0,589.4 259.5,590.5 260.0,591.5 260.5,592.3 261.0,593.1 261.6,594.0 262.1,594.8 262.6,595.6 263.1,596.4 263.7,597.1 264.2,597.9 264.8,598.7 265.3,599.4 265.9,600.2 266.4,601.0 267.0,601.7 267.5,602.5 268.0,603.3 268.6,604.1 269.1,604.9 269.7,605.7 270.2,606.5 270.7,607.3 271.3,608.1 271.8,608.9 272.4,609.7 272.9,610.5 273.4,609.9 273.9,609.3 274.5,608.7 275.0,608.1 275.5,607.5 276.1,606.9 276.6,606.2 277.1,605.6 277.7,605.0 278.2,604.3 278.8,603.7 279.3,602.8 279.9,601.8 280.4,600.9 280.9,599.9 281.5,599.0 282.0,598.0 282.6,596.7 283.1,595.4 283.7,594.2 284.2,592.9 284.8,591.6 285.4,586.8 286.0,582.0 286.5,574.0 287.0,566.0 287.6,559.9 288.3,553.8 288.8,555.9 289.3,558.0 289.8,562.0 290.3,566.0 290.9,567.2 291.5,568.5 292.0,569.7 292.5,570.8 293.0,572.0 293.5,572.5 294.0,573.0 294.5,573.5 295.0,574.0 295.7,576.0 296.4,573.8 296.9,571.0 297.5,567.5 298.0,568.5 298.6,573.5 299.1,579.1 299.8,585.1 300.5,585.5 301.0,586.3 301.5,587.2 302.0,588.0 302.5,587.6 303.0,587.2 303.5,586.9 304.0,586.5 304.5,587.1 305.0,587.8 305.5,588.4 306.0,589.0 306.5,588.8 307.0,588.5 307.5,588.2 308.0,588.0 308.5,588.6 309.0,589.2 309.5,589.9 310.0,590.5 310.5,590.2 311.0,590.0 311.5,589.8 312.0,589.5 312.5,590.0 313.0,590.5 313.5,591.0 314.0,591.5 314.5,591.2 315.0,591.0 315.5,590.8 316.0,590.5 316.5,591.0 317.0,591.5 317.5,592.0 318.0,592.5 318.5,592.2 319.0,592.0 319.5,591.8 320.0,591.5 320.5,591.9 321.0,592.2 321.5,592.6 322.0,593.0 322.5,592.9 323.1,592.8 323.6,592.6 324.2,592.5 324.7,592.4 325.3,592.9 325.9,588.6 326.5,584.0 327.0,579.8 327.5,579.0 328.0,583.1 328.5,587.6 329.1,592.3 329.6,594.7 330.1,595.0" fill="none" stroke="#0000ff" stroke-width="1.3" stroke-dasharray="5.5,1.3" stroke-linejoin="round"/>
<text x="365.6" y="349.4" font-size="14" font-weight="bold">d</text>
<rect x="430.5" y="346.0" width="254.1" height="103.1" fill="none" stroke="#6f6f6f" stroke-width="1"/>
<rect x="430.5" y="449.1" width="254.1" height="103.2" fill="none" stroke="#6f6f6f" stroke-width="1"/>
<rect x="430.5" y="552.3" width="254.1" height="102.8" fill="none" stroke="#6f6f6f" stroke-width="1"/>
<line x1="455.3" y1="449.1" x2="455.3" y2="453.5" stroke="#6f6f6f"/>
<line x1="526.9" y1="449.1" x2="526.9" y2="453.5" stroke="#6f6f6f"/>
<line x1="598.5" y1="449.1" x2="598.5" y2="453.5" stroke="#6f6f6f"/>
<line x1="670.1" y1="449.1" x2="670.1" y2="453.5" stroke="#6f6f6f"/>
<line x1="455.3" y1="552.3" x2="455.3" y2="556.7" stroke="#6f6f6f"/>
<line x1="526.9" y1="552.3" x2="526.9" y2="556.7" stroke="#6f6f6f"/>
<line x1="598.5" y1="552.3" x2="598.5" y2="556.7" stroke="#6f6f6f"/>
<line x1="670.1" y1="552.3" x2="670.1" y2="556.7" stroke="#6f6f6f"/>
<line x1="455.3" y1="655.1" x2="455.3" y2="659.5" stroke="#6f6f6f"/>
<line x1="526.9" y1="655.1" x2="526.9" y2="659.5" stroke="#6f6f6f"/>
<line x1="598.5" y1="655.1" x2="598.5" y2="659.5" stroke="#6f6f6f"/>
<line x1="670.1" y1="655.1" x2="670.1" y2="659.5" stroke="#6f6f6f"/>
<text x="455.3" y="674" text-anchor="middle" font-size="12">2</text>
<text x="526.9" y="674" text-anchor="middle" font-size="12">4</text>
<text x="598.5" y="674" text-anchor="middle" font-size="12">6</text>
<text x="670.1" y="674" text-anchor="middle" font-size="12">8</text>
<text x="557.8" y="690.5" text-anchor="middle" font-size="11.6"><tspan font-family="Liberation Serif" font-style="italic" font-size="12.5">ω</tspan> (eV)</text>
<line x1="425.4" y1="350.4" x2="430.5" y2="350.4" stroke="#6f6f6f"/>
<text x="421.2" y="354.7" text-anchor="end" font-size="12">200</text>
<line x1="425.4" y1="412.4" x2="430.5" y2="412.4" stroke="#6f6f6f"/>
<text x="421.2" y="416.7" text-anchor="end" font-size="12">0</text>
<line x1="425.4" y1="497.2" x2="430.5" y2="497.2" stroke="#6f6f6f"/>
<text x="421.2" y="501.5" text-anchor="end" font-size="12">0</text>
<line x1="425.4" y1="537.6" x2="430.5" y2="537.6" stroke="#6f6f6f"/>
<text x="421.2" y="541.9" text-anchor="end" font-size="12">−150</text>
<line x1="425.4" y1="561.5" x2="430.5" y2="561.5" stroke="#6f6f6f"/>
<text x="421.2" y="565.8" text-anchor="end" font-size="12">100</text>
<line x1="425.4" y1="602.3" x2="430.5" y2="602.3" stroke="#6f6f6f"/>
<text x="421.2" y="606.6" text-anchor="end" font-size="12">0</text>
<line x1="425.4" y1="642.6" x2="430.5" y2="642.6" stroke="#6f6f6f"/>
<text x="421.2" y="646.9" text-anchor="end" font-size="12">−100</text>
<text x="434.3" y="367.8" font-size="11.3">I</text>
<text x="434.3" y="471.1" font-size="11.3">II</text>
<text x="434.3" y="574.7" font-size="11.3">III</text>
<text transform="translate(382.3 499.6) rotate(-90)" text-anchor="middle" font-size="12.3">Shift current <tspan font-family="Liberation Serif" font-style="italic" font-size="12.5">σ</tspan><tspan font-family="Liberation Serif" font-style="italic" font-size="9" dy="-6">yyy</tspan><tspan dy="6"> (μA Å V</tspan><tspan font-size="8.6" dy="-5">−2</tspan><tspan dy="5">)</tspan></text>
<line x1="605.7" y1="357.9" x2="634" y2="357.9" stroke="#ff0000" stroke-width="2.6"/>
<line x1="608" y1="374.0" x2="634" y2="374.0" stroke="#0000ff" stroke-width="2.6" stroke-dasharray="9,5.4"/>
<text x="639.7" y="361.9" font-size="11.6">DFT</text>
<text x="639.7" y="378" font-size="11.6">DeepH</text>
<line x1="605.7" y1="520.9" x2="634" y2="520.9" stroke="#ff0000" stroke-width="2.6"/>
<line x1="608" y1="537.3" x2="634" y2="537.3" stroke="#0000ff" stroke-width="2.6" stroke-dasharray="9,5.4"/>
<text x="639.7" y="524.9" font-size="11.6">DFT</text>
<text x="639.7" y="541.3" font-size="11.6">DeepH</text>
<line x1="605.7" y1="623.9" x2="634" y2="623.9" stroke="#ff0000" stroke-width="2.6"/>
<line x1="608" y1="640.3" x2="634" y2="640.3" stroke="#0000ff" stroke-width="2.6" stroke-dasharray="9,5.4"/>
<text x="639.7" y="627.9" font-size="11.6">DFT</text>
<text x="639.7" y="644.3" font-size="11.6">DeepH</text>
<polyline points="440.4,411.8 444.2,413.7 449.0,411.4 452.8,414.8 456.6,413.0 460.4,411.4 463.2,414.3 470.8,416.7 473.7,396.2 477.8,361.1 480.3,398.1 482.8,439.9 486.9,434.2 490.7,413.3 495.5,395.3 499.3,411.4 502.1,420.9 505.9,423.2 509.7,443.7 513.5,443.7 517.3,417.1 520.7,367.8 524.9,354.5 528.7,390.5 536.3,390.5 538.2,401.9 542.0,424.7 546.2,433.3 549.6,415.2 553.5,405.0 557.9,402.1 561.8,403.6 564.8,411.5 568.7,407.6 572.7,408.6 575.6,410.5 578.5,410.5 582.5,407.6 587.4,411.5 593.4,416.5 597.3,431.6 600.8,422.4 604.2,411.5 608.1,416.5 612.1,420.4 616.0,412.5 621.0,410.5 628.8,409.6 634.7,410.5 640.7,408.6 644.0,409.5 648.5,412.5 658.4,413.9 662.3,412.5 668.2,411.5 674.2,410.5" fill="none" stroke="#ff0000" stroke-width="2.6" stroke-linejoin="round"/>
<polyline points="440.4,412.4 445.2,415.6 449.0,408.0 452.8,413.7 458.5,411.0 461.0,412.0 464.2,415.2 470.8,416.7 474.6,383.0 477.4,371.6 479.7,396.2 481.6,443.7 486.9,431.4 490.7,416.0 495.5,400.0 498.3,407.6 501.2,419.0 506.9,422.8 510.7,443.7 513.5,443.7 517.3,417.1 520.7,372.0 524.9,350.7 528.5,397.0 533.0,398.0 536.5,405.0 538.6,432.5 541.5,422.0 543.5,419.5 545.5,431.0 549.8,411.2 553.9,408.6 558.9,406.6 564.8,411.5 568.7,411.0 572.7,411.5 575.6,411.5 578.5,410.5 582.5,408.5 587.4,411.5 593.4,416.5 597.3,428.3 600.8,419.0 605.2,412.5 609.0,418.0 612.1,421.4 616.0,413.0 621.0,410.5 628.8,409.6 634.7,410.5 640.7,408.6 644.0,409.5 648.5,412.5 658.4,413.9 662.3,412.5 668.2,411.5 674.2,410.5" fill="none" stroke="#0000ff" stroke-width="2.6" stroke-dasharray="7.5,5" stroke-linejoin="round"/>
<polyline points="440.4,502.1 445.2,500.2 451.8,498.7 455.6,493.6 460.4,497.4 466.1,497.4 469.9,493.6 473.0,496.0 478.4,507.5 481.2,492.7 485.0,465.1 487.9,475.6 491.7,499.3 495.5,495.5 499.3,493.0 503.1,494.2 506.9,499.9 513.5,491.7 521.1,505.0 524.9,488.9 528.3,486.6 531.5,505.9 535.3,528.7 542.9,547.7 546.7,528.7 549.9,468.0 553.5,453.9 555.9,464.8 559.9,486.4 563.8,496.3 569.7,499.3 574.6,497.3 579.6,499.3 584.0,497.0 589.4,489.4 594.3,485.5 599.3,489.4 603.2,497.3 606.2,502.2 611.1,497.3 619.0,496.3 625.9,499.3 632.8,496.3 643.6,499.8 651.5,495.3 659.4,498.3 674.2,497.3" fill="none" stroke="#ff0000" stroke-width="2.6" stroke-linejoin="round"/>
<polyline points="440.4,501.2 445.2,499.0 449.0,504.0 451.8,499.0 455.6,493.6 460.4,497.4 464.0,496.0 469.9,495.0 473.0,495.0 478.4,503.1 485.0,466.1 488.5,477.0 491.7,494.5 495.5,495.5 499.3,492.5 503.1,494.2 506.9,499.5 510.5,494.0 514.5,487.0 520.1,499.9 526.8,494.2 530.6,507.8 536.3,515.4 540.1,524.9 542.9,536.3 546.7,528.7 549.6,477.5 553.4,454.7 556.5,470.0 560.8,492.4 565.0,495.5 575.6,495.3 579.6,500.2 584.0,499.0 589.4,489.4 594.3,485.5 599.3,490.0 602.2,498.3 605.2,508.1 608.5,498.5 611.1,497.3 619.0,496.3 625.9,499.3 632.8,496.3 643.6,499.8 651.5,495.3 659.4,498.3 674.2,497.3" fill="none" stroke="#0000ff" stroke-width="2.6" stroke-dasharray="7.5,5" stroke-linejoin="round"/>
<polyline points="440.4,607.4 445.2,602.3 449.0,607.0 452.8,608.0 456.2,595.3 460.4,601.7 464.2,607.0 467.0,612.7 470.2,578.6 474.0,559.6 477.4,591.9 481.6,596.0 485.0,566.2 488.8,593.8 492.3,616.5 496.0,616.5 500.2,597.5 505.0,571.0 507.4,557.7 510.7,558.6 513.5,571.0 520.7,584.3 524.9,579.5 528.7,582.4 532.5,606.1 535.3,605.1 539.1,587.1 543.9,608.9 549.6,650.7 553.0,642.7 557.9,622.0 564.8,614.1 571.3,621.0 577.6,609.2 585.9,599.3 591.4,601.3 599.3,604.2 607.2,603.2 615.0,599.3 620.0,605.2 628.8,601.3 636.7,603.2 644.6,605.6 650.5,600.3 653.5,598.3 660.4,600.3 674.2,602.3" fill="none" stroke="#ff0000" stroke-width="2.6" stroke-linejoin="round"/>
<polyline points="441.4,603.2 445.2,599.4 449.0,606.0 452.8,606.5 455.1,596.0 458.3,597.5 461.3,605.1 464.2,608.0 467.6,618.4 470.8,580.5 473.7,567.2 476.5,577.0 479.7,587.1 485.0,559.6 487.9,582.4 492.6,599.4 495.5,608.9 498.3,595.7 501.7,578.6 506.9,556.7 509.7,569.1 517.3,578.6 520.1,598.5 524.9,607.0 529.6,595.7 532.5,607.0 535.3,601.3 539.1,585.2 543.9,608.0 549.6,646.9 555.3,626.0 559.1,622.2 564.8,629.8 569.7,609.2 575.6,601.3 583.0,600.0 591.4,601.3 599.3,604.2 607.2,600.3 615.0,600.3 620.0,604.2 628.8,602.3 636.7,603.8 644.6,604.8 650.5,596.3 653.5,599.3 660.4,600.3 674.2,602.3" fill="none" stroke="#0000ff" stroke-width="2.6" stroke-dasharray="7.5,5" stroke-linejoin="round"/>
</svg>
</body></html>
